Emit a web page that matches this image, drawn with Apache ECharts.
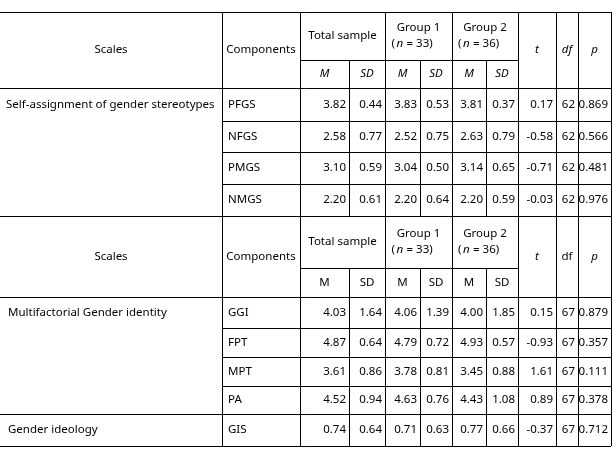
<!DOCTYPE html><html><head><meta charset="utf-8"><script src="https://cdn.jsdelivr.net/npm/echarts@6/dist/echarts.min.js"></script>
<style>html,body{margin:0;background:#fff}#c{width:616px;height:458px}</style></head><body><div id="c"></div><script>
const scales1=["Self-assignment of gender stereotypes"];
const comps1=["PFGS","NFGS","PMGS","NMGS"];
const vals1=[["3.82","0.44","3.83","0.53","3.81","0.37","0.17","62","0.869"],
["2.58","0.77","2.52","0.75","2.63","0.79","-0.58","62","0.566"],
["3.10","0.59","3.04","0.50","3.14","0.65","-0.71","62","0.481"],
["2.20","0.61","2.20","0.64","2.20","0.59","-0.03","62","0.976"]];
const comps2=["GGI","FPT","MPT","PA","GIS"];
const vals2=[["4.03","1.64","4.06","1.39","4.00","1.85","0.15","67","0.879"],
["4.87","0.64","4.79","0.72","4.93","0.57","-0.93","67","0.357"],
["3.61","0.86","3.78","0.81","3.45","0.88","1.61","67","0.111"],
["4.52","0.94","4.63","0.76","4.43","1.08","0.89","67","0.378"],
["0.74","0.64","0.71","0.63","0.77","0.66","-0.37","67","0.712"]];
const X=[0,222,300,349,385,420,452,486,518,556,578,611];
const F='"Noto Sans",sans-serif';
const g=[];
function L(x1,y1,x2,y2){g.push({type:'line',shape:{x1,y1,x2,y2},style:{stroke:'#000',lineWidth:1}});}
function T(t,x,y,al,it){g.push({type:'text',x,y,style:{text:t,x:0,y:0,fill:'#000',font:(it?'italic ':'')+'11.5px '+F,align:al||'center',verticalAlign:'middle'}});}
function mid(i,j){return (X[i]+X[j])/2;}
function header(top,mid_,bot,italic){
  L(0,top+.5,611,top+.5);L(0,bot+.5,611,bot+.5);L(300,mid_+.5,518,mid_+.5);
  [1,2,4,6,8,9,10,11].forEach(i=>L(X[i]+.5,top,X[i]+.5,bot));
  [3,5,7].forEach(i=>L(X[i]+.5,mid_,X[i]+.5,bot));
  const c=(top+bot)/2, r1=(top+mid_)/2, r2=(mid_+bot)/2;
  T("Scales",mid(0,1),c);T("Components",mid(1,2),c);T("Total sample",mid(2,4),r1);
  T("Group 1",mid(4,6),r1-8);T("Group 2",mid(6,8),r1-8);
  ['4','6'].forEach((k,ix)=>{const cx=mid(+k,+k+2);T("(",cx-27,r1+8,'left');T("n",cx-22,r1+8,'left',true);T(" = "+(ix?36:33)+")",cx-15,r1+8,'left');});
  T("t",mid(8,9),c,'center',true);T("df",mid(9,10),c,'center',italic);T("p",mid(10,11),c,'center',true);
  ["M","SD","M","SD","M","SD"].forEach((s,i)=>T(s,mid(2+i,3+i),r2,'center',italic));
}
function rows(ys,comps,vals,fullIdx){
  comps.forEach((cp,r)=>{const a=ys[r],b=ys[r+1];
    for(let i=1;i<12;i++)L(X[i]+.5,a,X[i]+.5,b);
    L(fullIdx.includes(r)?0:222,b+.5,611,b+.5);
    const c=(a+b)/2;T(cp,228,c,'left');
    vals[r].forEach((v,i)=>T(v,X[3+i]-3,c,'right'));
  });
}
header(12,60,88,true);
const y1=[88,121,152,184,216];
rows(y1,comps1,vals1,[3]);T(scales1[0],6,(y1[0]+y1[1])/2,'left');
header(216,268,297,false);
const y2=[297,328,357,386,414,446];
rows(y2,comps2,vals2,[3,4]);
T("Multifactorial Gender identity",8,(y2[0]+y2[1])/2,'left');
T("Gender ideology",8,(y2[4]+y2[5])/2,'left');
const ch=echarts.init(document.getElementById('c'));
ch.setOption({animation:false,graphic:{elements:g}});
</script></body></html>
